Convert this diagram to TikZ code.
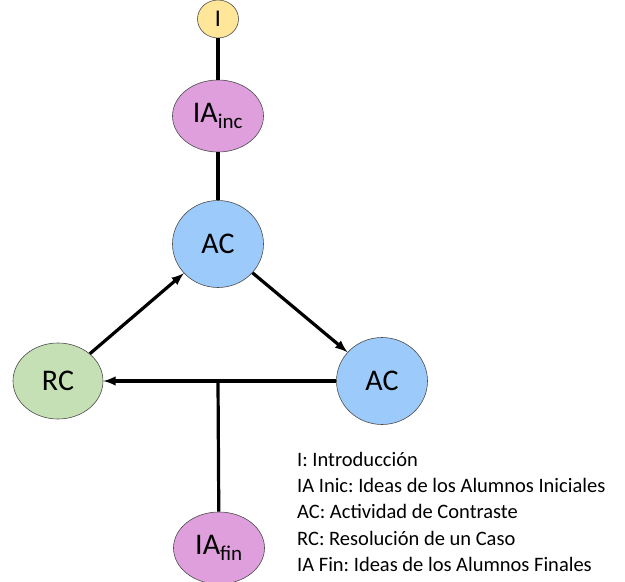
\documentclass[tikz,border=0pt]{standalone}
\usepackage{fontspec}
\setmainfont{Carlito}
\usetikzlibrary{arrows,shapes.geometric}

\begin{document}
\frenchspacing
\begin{tikzpicture}[x=1pt, y=-1pt,
    etapa/.style  = {ellipse, draw=black!70, line width=0.6pt, inner sep=0pt,
                     font=\fontsize{30}{34}\selectfont},
    intro/.style  = {etapa, fill=introcol, minimum width=41pt, minimum height=38pt,
                     font=\fontsize{24}{28}\selectfont},
    ideas/.style  = {etapa, fill=ideascol, minimum width=91pt, minimum height=72pt},
    contr/.style  = {etapa, fill=contrcol, minimum width=91pt, minimum height=87pt},
    caso/.style   = {etapa, fill=casocol, minimum width=90pt, minimum height=76pt},
    enlace/.style = {line width=3.2pt, black},
    flecha/.style = {enlace, -latex}]
  \definecolor{introcol}{HTML}{FFE699}
  \definecolor{ideascol}{HTML}{DE9FDC}
  \definecolor{contrcol}{HTML}{9CCBFB}
  \definecolor{casocol}{HTML}{C5E0B4}
  \useasboundingbox (0,0) rectangle (625,582);

% level 0
\node[intro] (I) at (218,19) {I};
\node[ideas] (IAinc) at (218,116) {IA\textsubscript{inc}};

% level 1
\node[contr] (ACtop) at (218,244) {AC};

% level 2
\node[caso]  (RC)  at (58,381)  {RC};
\node[contr] (ACr) at (382,381) {AC};
\coordinate (junc) at (218,381);

% level 3
\node[ideas] (IAfin) at (219,548) {IA\textsubscript{fin}};

\draw[enlace] (I) -- (IAinc);
\draw[enlace] (IAinc) -- (ACtop);
\draw[flecha] (RC) -- (ACtop);
\draw[flecha] (ACtop) -- (ACr);
\draw[flecha] (ACr) -- (RC);
\draw[enlace] (IAfin) -- (junc);

\node[anchor=north west, align=left, inner sep=0pt,
      font=\fontsize{20.5}{26.2}\selectfont] (leyenda) at (297,452)
    {I: Introducción\\
     IA Inic: Ideas de los Alumnos Iniciales\\
     AC: Actividad de Contraste\\
     RC: Resolución de un Caso\\
     IA Fin: Ideas de los Alumnos Finales};
\end{tikzpicture}
\end{document}
